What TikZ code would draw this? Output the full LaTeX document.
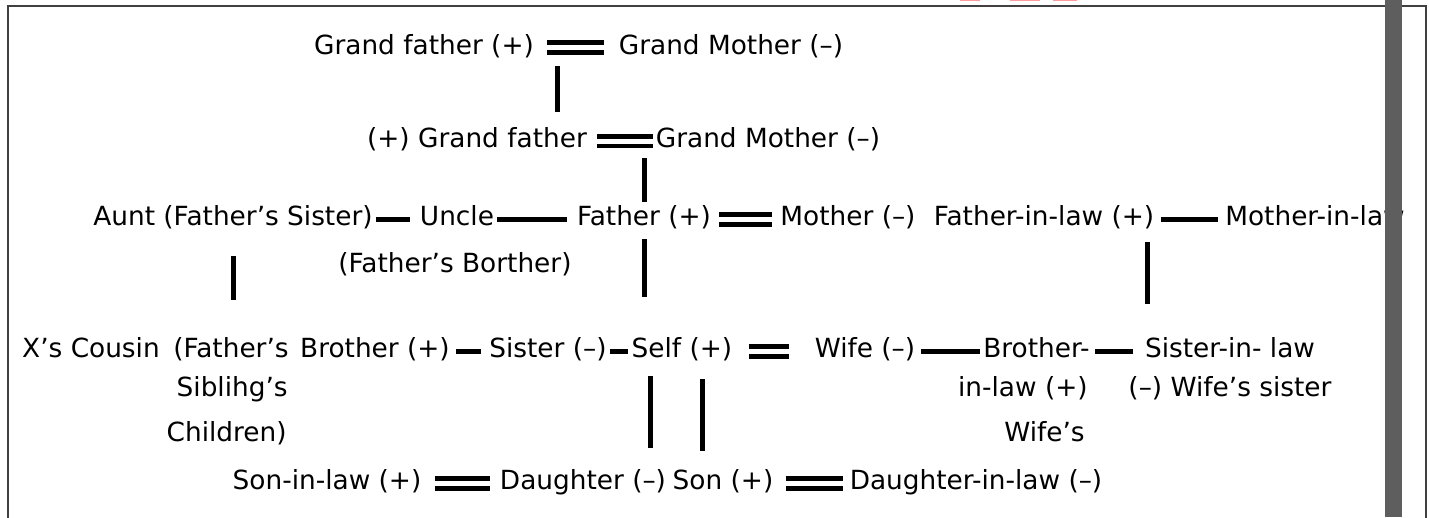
\documentclass[tikz,border=0pt]{standalone}
\usepackage{fontspec}
\setmainfont{DejaVu Sans}
\definecolor{framegray}{HTML}{404040}
\definecolor{scrollgray}{HTML}{5E5E5E}
\definecolor{cutpink}{HTML}{FF9A9A}
\newcommand{\kinfont}{\fontsize{15}{18}\selectfont}
\tikzset{
  kin/.style={font=\kinfont, inner sep=0.06cm, text height=0.40cm, text depth=0.14cm},
  tie/.style={line width=0.1cm, shorten <=0.1cm, shorten >=0.1cm},
  wed/.style={line width=0.1cm, double, double distance=0.1cm, shorten <=0.1cm, shorten >=0.1cm},
  stem/.style={line width=0.1cm}
}

\begin{document}
\begin{tikzpicture}[x=0.02cm, y=-0.02cm]
  \useasboundingbox (0,0) rectangle (1429,517);

  % ============ page frame ============
  \draw[framegray, line width=0.04cm] (8,520) -- (8,6) -- (1426,6) -- (1426,520);
  \fill[cutpink] (960,0) rectangle (980,1.5);
  \fill[cutpink] (1010,0) rectangle (1040,1.5);
  \fill[cutpink] (1053,0) rectangle (1077,1.5);

  % ============ grandparents ============
  \node[kin] (gfa) at (424,48) {Grand father (+)};
  \node[kin] (gma) at (731,48) {Grand Mother (–)};
  \node[kin] (gfb) at (477,141) {(+) Grand father};
  \node[kin] (gmb) at (768,141) {Grand Mother (–)};

  % ============ parents' generation ============
  \node[kin] (aunt) at (233,219) {Aunt (Father’s Sister)};
  \node[kin] (uncle) at (457,219) {Uncle};
  \node[kin] (unclenote) at (455,266) {(Father’s Borther)};
  \node[kin] (father) at (644,219) {Father (+)};
  \node[kin] (mother) at (848,219) {Mother (–)};
  \node[kin] (fil) at (1044,219) {Father-in-law (+)};
  \node[kin] (mil) at (1315,219) {Mother-in-law};

  % ============ own generation ============
  \node[kin] (cousin) at (91,351) {X’s Cousin};
  \node[kin, anchor=east] (sib1) at (292,351) {(Father’s};
  \node[kin, anchor=east] (sib2) at (291,390) {Siblihg’s};
  \node[kin, anchor=east] (sib3) at (290,435) {Children)};
  \node[kin] (brother) at (375,351) {Brother (+)};
  \node[kin] (sister) at (548,351) {Sister (–)};
  \node[kin] (self) at (682,351) {Self (+)};
  \node[kin] (wife) at (865,351) {Wife (–)};
  \node[kin, anchor=east] (bil1) at (1093,351) {Brother-};
  \node[kin, anchor=east] (bil2) at (1091,390) {in-law (+)};
  \node[kin, anchor=east] (bil3) at (1088,435) {Wife’s};
  \node[kin] (sil1) at (1230,351) {Sister-in- law};
  \node[kin] (sil2) at (1230,390) {(–) Wife’s sister};

  % ============ children ============
  \node[kin] (sonil) at (327,483) {Son-in-law (+)};
  \node[kin] (daughter) at (583,483) {Daughter (–)};
  \node[kin] (son) at (723,483) {Son (+)};
  \node[kin] (dil) at (976,483) {Daughter-in-law (–)};

  % marriages
  \draw[wed, shorten <=0.2cm, shorten >=0.24cm] (gfa) -- (gma);
  \draw[wed, shorten <=0.14cm, shorten >=0cm] (gfb) -- (gmb);
  \draw[wed] (father) -- (mother);
  \draw[wed, shorten <=0.26cm, shorten >=0.44cm] (self) -- (wife);
  \draw[wed, shorten <=0.2cm, shorten >=0.14cm] (sonil) -- (daughter);
  \draw[wed, shorten <=0.18cm, shorten >=0.06cm] (son) -- (dil);

  % siblings and in-laws
  \draw[tie, shorten <=0cm, shorten >=0.14cm] (aunt) -- (uncle);
  \draw[tie, shorten <=0cm, shorten >=0.14cm] (uncle) -- (father);
  \draw[tie, shorten <=0.06cm, shorten >=0.08cm] (fil) -- (mil);
  \draw[tie, shorten <=0.06cm, shorten >=0.1cm] (brother) -- (sister);
  \draw[tie, shorten <=0cm, shorten >=0cm] (sister) -- (self);
  \draw[tie, shorten <=0.04cm, shorten >=0cm] (wife) -- (bil1);
  \draw[tie, shorten <=0.04cm, shorten >=0.18cm] (bil1) -- (sil1);

  % descent lines
  \coordinate (gtop) at ([xshift=0.4cm]gfa.east);
  \coordinate (filfoot) at ([xshift=-0.2cm]fil.south east);
  \coordinate (selfl) at ([xshift=-0.63cm]self.south);
  \coordinate (selfr) at ([xshift=0.41cm]self.south);
  \draw[stem, shorten <=0.36cm, shorten >=0.24cm] (gtop) -- (gtop |- gfb.north);
  \draw[stem, shorten >=0.34cm] (father) -- (father |- gmb);
  \draw[stem, shorten <=0.4cm, shorten >=0.69cm] (aunt) -- (aunt |- sib1.north);
  \draw[stem, shorten <=0.07cm, shorten >=0.75cm] (father) -- (father |- self.north);
  \draw[stem, shorten <=0.12cm, shorten >=0.61cm] (filfoot) -- (filfoot |- sil1.north);
  \draw[stem, shorten <=0.17cm, shorten >=0.37cm] (selfl) -- (selfl |- daughter.north);
  \draw[stem, shorten <=0.23cm, shorten >=0.31cm] (selfr) -- (selfr |- son.north);

  % scroll bar over the right edge
  \fill[scrollgray] (1385,0) rectangle (1402,517);
\end{tikzpicture}
\end{document}
